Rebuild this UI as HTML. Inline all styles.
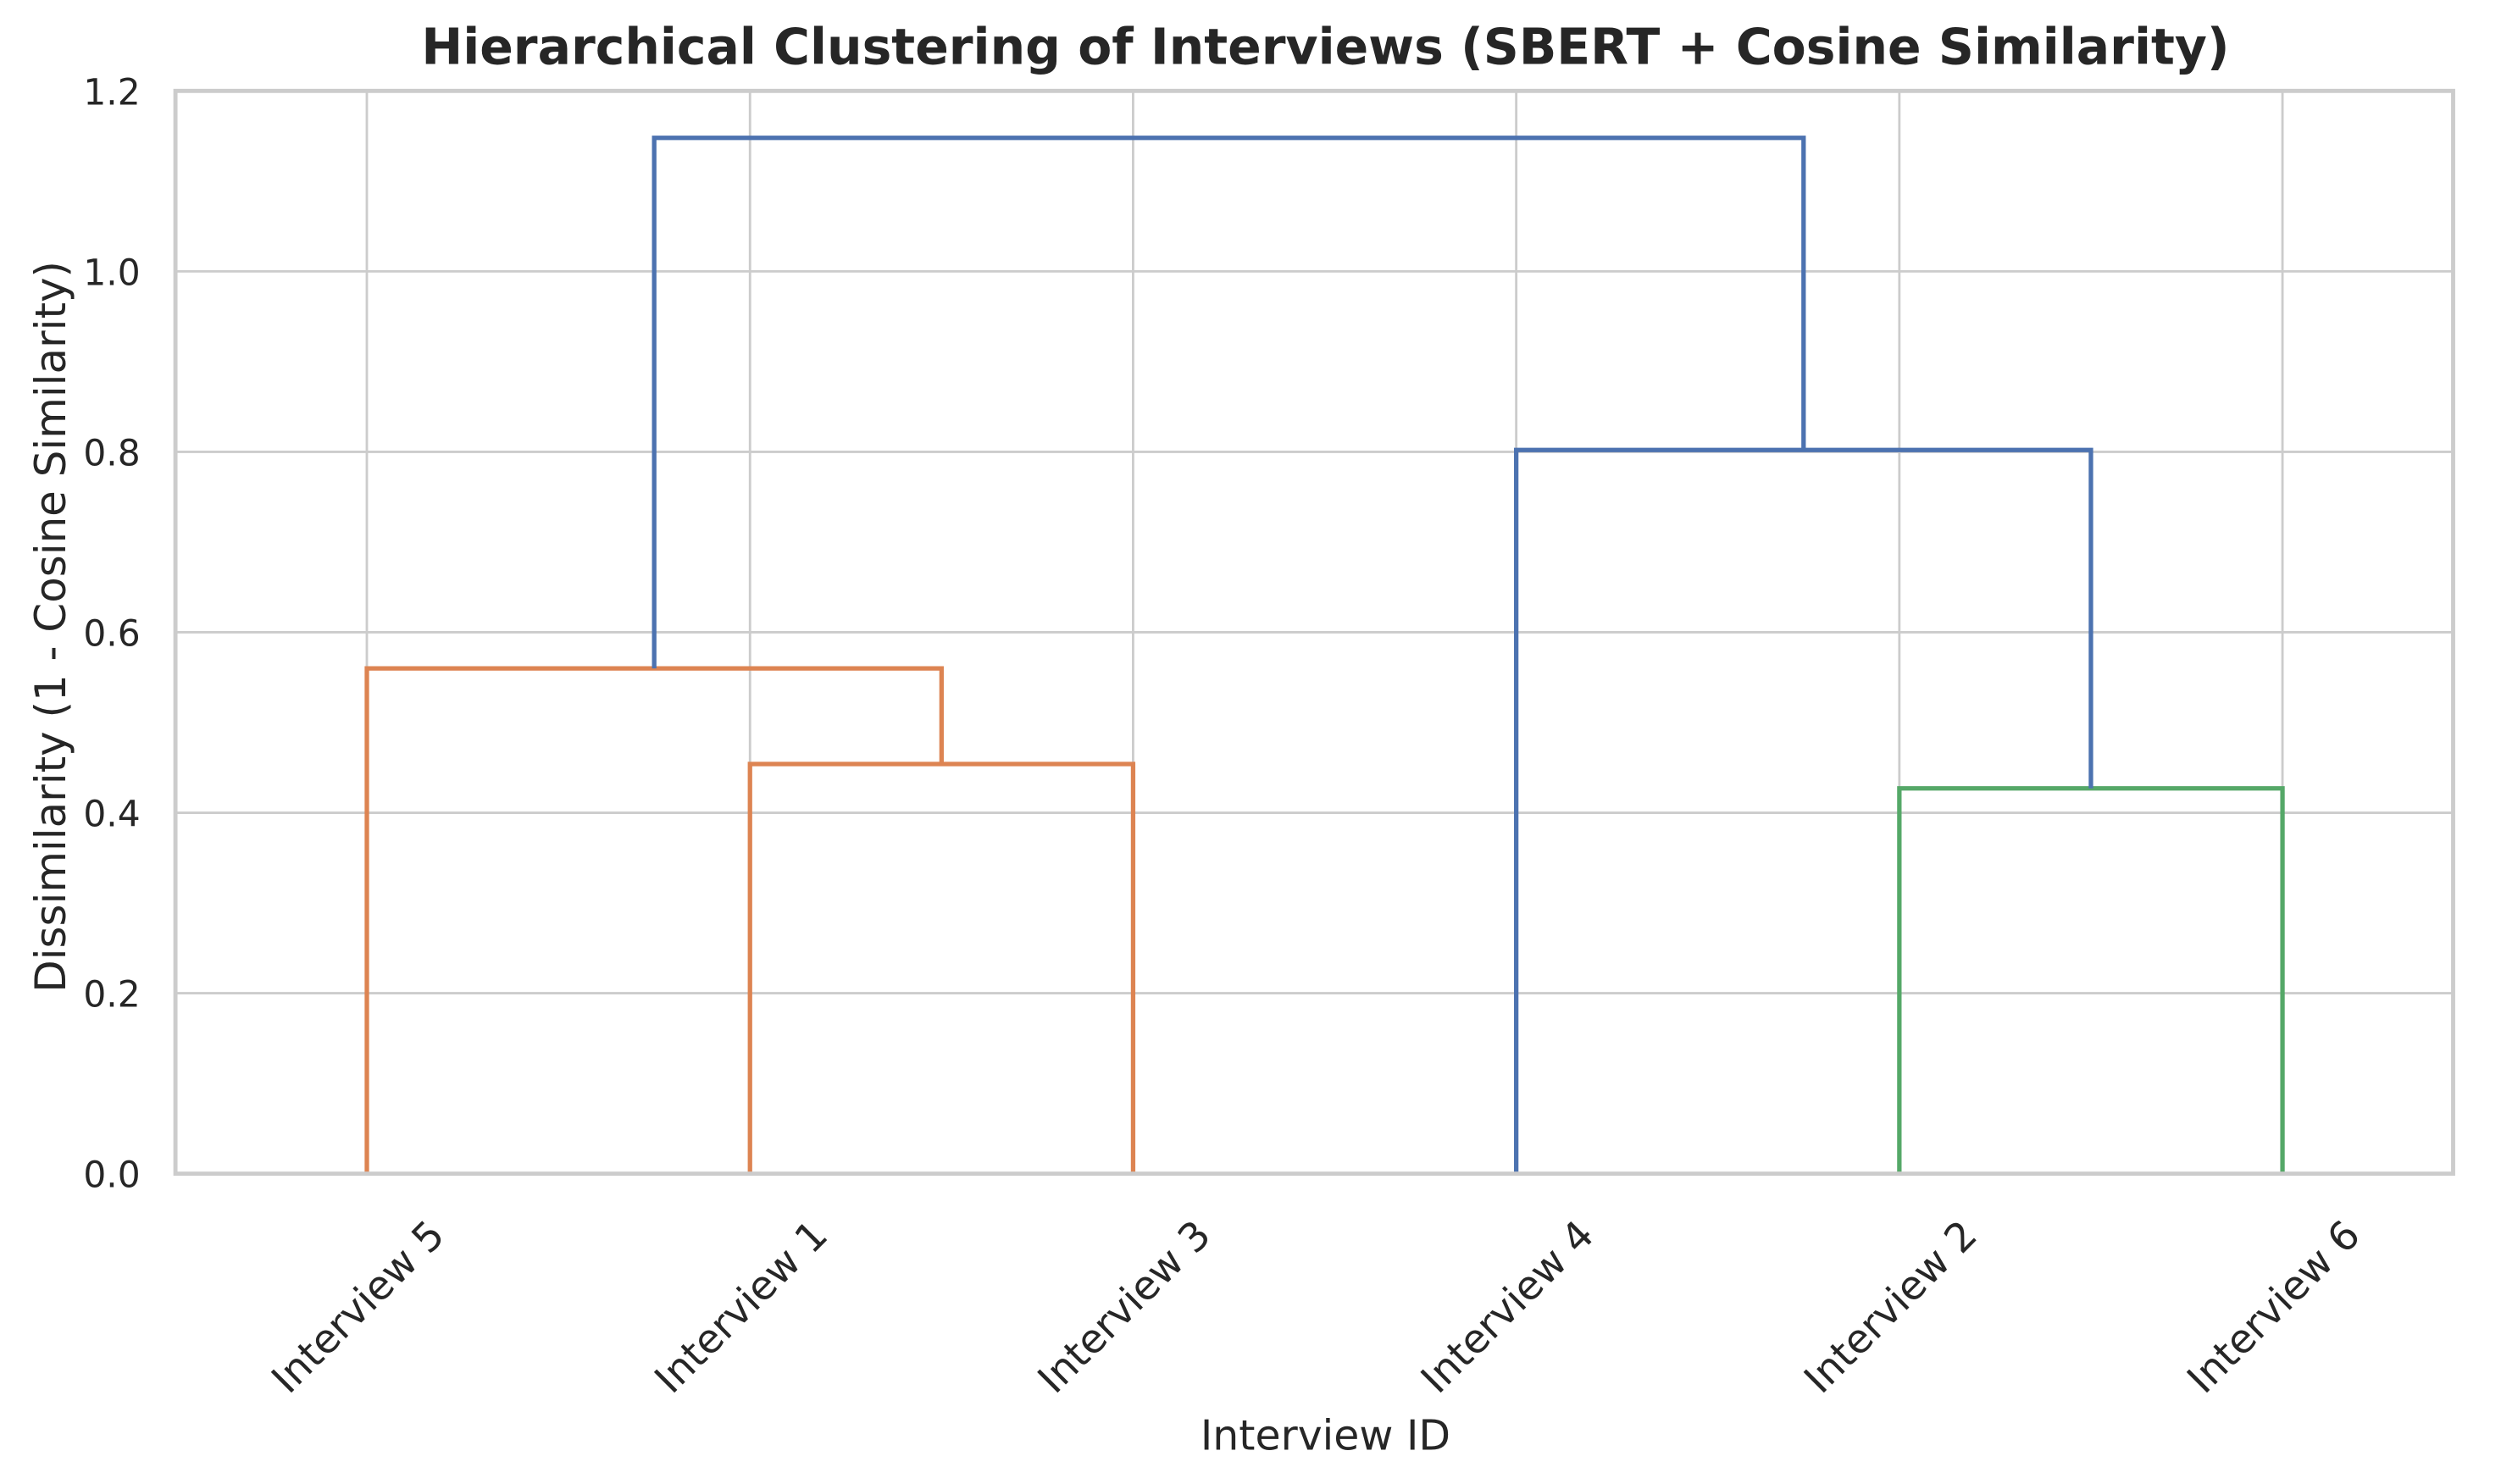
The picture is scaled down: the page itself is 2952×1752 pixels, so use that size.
<!DOCTYPE html>
<html><head><meta charset="utf-8"><style>
html,body{margin:0;padding:0;background:#fff;}
svg{display:block;font-family:"DejaVu Sans","Liberation Sans",sans-serif;}
</style></head><body>
<svg id="chart" width="2952" height="1752" viewBox="0 0 1568 930.6" xmlns="http://www.w3.org/2000/svg">
<rect width="1568" height="930.6" fill="#fff"/>
<g id="grid"></g>
<g id="links"></g>
<rect x="110" y="57" width="1428" height="679" fill="none" stroke="#cccccc" stroke-width="2.6"/>
<g id="yticks"></g>
<g id="xticks"></g>
<text x="831" y="40" text-anchor="middle" font-size="31" font-weight="bold" fill="#262626">Hierarchical Clustering of Interviews (SBERT + Cosine Similarity)</text>
<text x="831" y="909" text-anchor="middle" font-size="26" fill="#262626">Interview ID</text>
<text transform="translate(41,393) rotate(-90)" text-anchor="middle" font-size="26.5" fill="#262626">Dissimilarity (1 - Cosine Similarity)</text>
</svg>
<script>
const leafLabels = ["Interview 5","Interview 1","Interview 3","Interview 4","Interview 2","Interview 6"];
const yTickValues = [0.0,0.2,0.4,0.6,0.8,1.0,1.2];
const yTickLabels = ["0.0","0.2","0.4","0.6","0.8","1.0","1.2"];
const linkHeights = [0.454, 0.560, 0.427, 0.802, 1.148];
const linkLeft = [[15,0],[5,0],[45,0],[35,0],[12.5,0.560]];
const linkRight = [[25,0],[20,0.454],[55,0],[50,0.427],[42.5,0.802]];
const linkColors = ["orange","orange","green","blue","blue"];
const palette = {blue:"#4c72b0",orange:"#dd8452",green:"#55a868"};
const NS="http://www.w3.org/2000/svg";
const XO=109.9,XU=24.02,Y0=736,Y1=57,YMAX=1.2,FX0=110,FX1=1538;
function xs(v){return XO+XU*v;}
function ys(v){return Y0-(Y0-Y1)*v/YMAX;}
function mk(tag,attrs,parent){const e=document.createElementNS(NS,tag);for(const k in attrs)e.setAttribute(k,attrs[k]);parent.appendChild(e);return e;}
const grid=document.getElementById('grid'),links=document.getElementById('links'),yt=document.getElementById('yticks'),xt=document.getElementById('xticks');
yTickValues.forEach((v,i)=>{
  const l=mk('line',{x1:FX0,x2:FX1,y1:ys(v),y2:ys(v),stroke:"#cccccc","stroke-width":1.5},grid);
  
  
  const t=mk('text',{x:88,y:ys(v)+8.5,"text-anchor":"end","font-size":22.5,fill:"#262626"},yt);
  t.textContent=yTickLabels[i];
  
  
});
leafLabels.forEach((lab,i)=>{
  const x=xs(5+10*i);
  const l=mk('line',{x1:x,x2:x,y1:Y0,y2:Y1,stroke:"#cccccc","stroke-width":1.5},grid);
  
  
  const t=mk('text',{transform:`translate(${x+50},${Y0+40}) rotate(-45)`,"text-anchor":"end","font-size":25,fill:"#262626"},xt);
  t.textContent=lab;
  
  
});
linkHeights.forEach((h,i)=>{
  const [lx,lh]=linkLeft[i],[rx,rh]=linkRight[i];
  const p=mk('path',{d:`M${xs(lx)},${ys(lh)} V${ys(h)} H${xs(rx)} V${ys(rh)}`,fill:"none",stroke:palette[linkColors[i]],"stroke-width":2.8},links);
  
  
});
</script>
</body></html>
